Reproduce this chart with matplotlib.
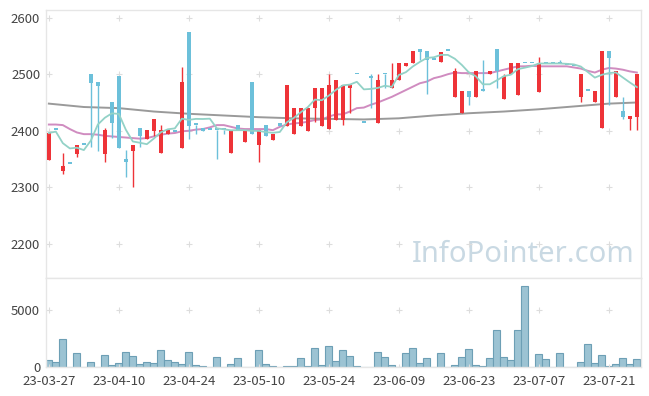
import numpy as np
import matplotlib.pyplot as plt
import pandas as pd

plt.rcParams['font.family'] = ['Noto Sans CJK KR', 'DejaVu Sans']

# daily candles (o, h, l, c), red = up, blue = down
opens = [2348, 2401, 2329, 2341, 2359, 2375, 2500, 2487, 2359, 2451,
         2496, 2350, 2364, 2404, 2385, 2400, 2360, 2395, 2398, 2370,
         2575, 2410, 2404, 2401, 2401, 2401, 2360, 2410, 2380, 2486,
         2374, 2410, 2383, 2414, 2409, 2395, 2409, 2400, 2440, 2409,
         2403, 2419, 2419, 2475, 2500, 2414, 2497, 2414, 2500, 2475,
         2490, 2515, 2519, 2545, 2541, 2525, 2522, 2541, 2459, 2431,
         2470, 2459, 2470, 2500, 2545, 2456, 2500, 2463, 2519, 2519,
         2469, 2519, 2519, 2519, 2516, 2514, 2459, 2470, 2450, 2404,
         2541, 2459, 2435, 2420, 2425]
highs = [2396, 2401, 2361, 2341, 2375, 2375, 2500, 2487, 2404, 2451,
         2496, 2366, 2375, 2404, 2401, 2420, 2410, 2401, 2398, 2512,
         2575, 2410, 2404, 2401, 2401, 2401, 2401, 2410, 2401, 2486,
         2401, 2410, 2395, 2414, 2481, 2440, 2440, 2440, 2475, 2475,
         2500, 2490, 2481, 2481, 2500, 2414, 2500, 2500, 2500, 2519,
         2519, 2519, 2541, 2545, 2541, 2525, 2540, 2541, 2511, 2470,
         2470, 2506, 2525, 2506, 2545, 2500, 2519, 2519, 2519, 2519,
         2530, 2519, 2519, 2525, 2516, 2514, 2500, 2470, 2470, 2541,
         2541, 2506, 2460, 2426, 2500]
lows = [2348, 2401, 2324, 2341, 2354, 2375, 2371, 2364, 2345, 2387,
        2369, 2319, 2300, 2371, 2385, 2391, 2360, 2395, 2398, 2370,
        2385, 2395, 2400, 2401, 2350, 2395, 2360, 2401, 2380, 2395,
        2345, 2390, 2383, 2408, 2409, 2395, 2409, 2400, 2416, 2409,
        2403, 2419, 2410, 2431, 2500, 2414, 2440, 2414, 2475, 2475,
        2490, 2515, 2519, 2525, 2465, 2525, 2522, 2541, 2459, 2431,
        2446, 2459, 2470, 2500, 2475, 2456, 2500, 2463, 2519, 2519,
        2469, 2519, 2519, 2519, 2516, 2514, 2451, 2470, 2450, 2404,
        2446, 2459, 2420, 2401, 2401]
closes = [2396, 2401, 2337, 2341, 2375, 2375, 2485, 2479, 2401, 2414,
          2370, 2345, 2375, 2390, 2401, 2420, 2401, 2401, 2398, 2487,
          2409, 2410, 2400, 2401, 2401, 2401, 2401, 2401, 2401, 2395,
          2401, 2390, 2395, 2408, 2481, 2440, 2440, 2440, 2475, 2475,
          2481, 2490, 2481, 2481, 2500, 2414, 2494, 2490, 2500, 2490,
          2519, 2519, 2541, 2540, 2525, 2525, 2540, 2541, 2506, 2470,
          2459, 2506, 2470, 2506, 2505, 2496, 2519, 2519, 2519, 2519,
          2519, 2519, 2519, 2519, 2516, 2514, 2500, 2470, 2470, 2541,
          2529, 2506, 2425, 2426, 2500]
volume = [614, 439, 2456, 0, 1228, 0, 439, 0, 1053, 175,
          351, 1316, 965, 263, 439, 351, 1491, 614, 439, 263,
          1316, 175, 88, 0, 877, 0, 263, 789, 0, 0,
          1491, 263, 88, 0, 88, 88, 789, 88, 1667, 175,
          1842, 526, 1491, 965, 88, 0, 0, 1316, 877, 175,
          0, 1228, 1667, 351, 789, 0, 1228, 0, 175, 877,
          1579, 175, 88, 789, 3246, 877, 614, 3246, 7105, 0,
          1140, 702, 0, 1228, 0, 0, 439, 2018, 351, 1053,
          88, 263, 789, 263, 702]

# 20-day line (read per day) and long line (read every 5 days)
ma20 = [2411, 2411, 2410, 2403, 2397, 2394, 2394, 2393, 2391, 2390,
        2389, 2388, 2387, 2386, 2387, 2390, 2393, 2395, 2396, 2399,
        2400, 2402, 2403, 2406, 2410, 2410, 2407, 2404, 2403, 2403,
        2403, 2403, 2401, 2407, 2411, 2413, 2414, 2416, 2419, 2420,
        2425, 2429, 2429, 2434, 2440, 2441, 2446, 2450, 2455, 2460,
        2466, 2472, 2478, 2484, 2487, 2493, 2496, 2500, 2503, 2502,
        2502, 2502, 2502, 2502, 2505, 2508, 2511, 2514, 2514, 2515,
        2514, 2514, 2514, 2514, 2514, 2512, 2510, 2506, 2503, 2508,
        2511, 2510, 2508, 2505, 2503]
long_idx = [0, 5, 10, 15, 20, 25, 30, 35, 40, 45, 50, 55, 60, 65, 70, 75, 80, 84]
long_ma = [2448, 2442, 2440, 2434, 2430, 2427, 2424, 2422, 2421, 2420,
           2422, 2427, 2431, 2434, 2438, 2443, 2448, 2450]

tick_labels = ['23-03-27', '23-04-10', '23-04-24', '23-05-10', '23-05-24',
               '23-06-09', '23-06-23', '23-07-07', '23-07-21']

df = pd.DataFrame({'o': opens, 'h': highs, 'l': lows, 'c': closes, 'v': volume})
x = np.arange(len(df))
ma5 = df['c'].rolling(5, min_periods=1).mean()

red = '#ee3338'
blue = '#6cc0da'
edge = '#e6e6e6'

fig = plt.figure(figsize=(6.49, 3.96), dpi=100)
ax = fig.add_axes([0.0704, 0.298, 0.9168, 0.6767])
axv = fig.add_axes([0.0704, 0.0732, 0.9168, 0.2248])

up = df['c'] > df['o']
cols = np.where(up, red, blue)
bottoms = np.minimum(df['o'], df['c'])
heights = np.maximum(np.abs(df['c'] - df['o']), 3.0)
ax.vlines(x, df['l'], df['h'], colors=cols, lw=1, zorder=3)
ax.bar(x, heights, bottom=bottoms, width=0.6, color=cols, zorder=4)

ax.plot(x, ma5, color='#93d2c7', lw=1.3, zorder=5)
ax.plot(x, ma20, color='#d08cc0', lw=1.4, zorder=2)
ax.plot(long_idx, long_ma, color='#9a9a9a', lw=1.4, zorder=2)

axv.bar(x, df['v'], width=1.0, color='#9cc3d3', edgecolor='#6d9fb5', lw=0.8)

xt = list(range(0, len(df), 10))
ax.set_xlim(-0.45, 84.55)
ax.set_ylim(2139.5, 2613.6)
axv.set_xlim(-0.45, 84.55)
axv.set_ylim(0, 7807)

ax.set_yticks([2200, 2300, 2400, 2500, 2600])
ax.set_xticks(xt)
ax.set_xticklabels([])
axv.set_yticks([0, 5000])
axv.set_xticks(xt)
axv.set_xticklabels(tick_labels)

for a in (ax, axv):
    a.tick_params(length=0, labelsize=9.5, labelcolor='#444444', pad=4)
    for s in a.spines.values():
        s.set_color(edge)
        s.set_linewidth(1)
    # little "+" marks where grid lines would cross
    gx, gy = np.meshgrid(xt, a.get_yticks())
    a.plot(gx.ravel(), gy.ravel(), '+', color='#dddddd', ms=5, mew=0.8, zorder=1)
axv.tick_params(axis='x', pad=6)

ax.text(0.802, 0.086, 'InfoPointer.com', transform=ax.transAxes, ha='center',
        va='center', fontsize=21, color='#c9d9e3', family=['Noto Sans', 'DejaVu Sans'],
        zorder=0)

plt.savefig('out.png', dpi=100)
